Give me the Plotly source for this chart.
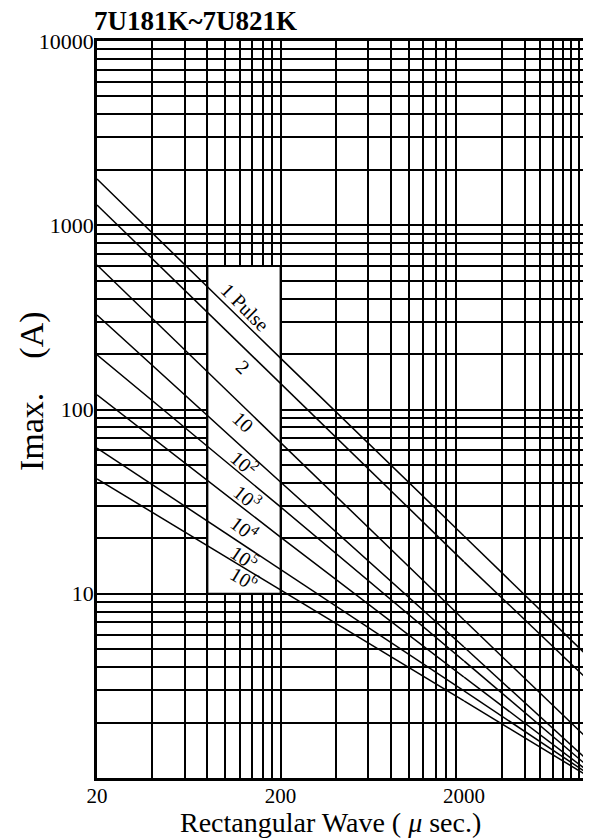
import math
import plotly.graph_objects as go

# pulse-life curves, Imax (A) read at t = 20, 200, 2000 us and at the right edge
pulse_labels = ["1 Pulse", "2", "10", "10<sup>2</sup>", "10<sup>3</sup>",
                "10<sup>4</sup>", "10<sup>5</sup>", "10<sup>6</sup>"]
t_left = [20, 200, 2000]
t_right = [2000, 20000]
i_20 = [1782, 1288, 609, 326, 198, 120, 61.8, 42.0]
i_200 = [190, 139, 65.8, 40.4, 29.6, 20.3, 13.5, 10.5]
i_2000 = [20.6, 14.9, 7.2, 5.14, 4.32, 3.53, 2.97, 2.62]
i_end = [4.4, 3.28, 1.57, 1.2, 1.12, 1.06, 1.03, 1.0]

# grid / tick values
x_grid1 = [20 * k for k in range(1, 11)] + [200 * k for k in range(2, 11)]
x_grid2 = [2000 * k for k in range(1, 11)]
y_grid = [m * 10 ** e for e in range(0, 4) for m in range(1, 10)] + [10000]
x_labels = {20: "20", 200: "200", 2000: "2000"}
y_labels = {10: "10", 100: "100", 1000: "1000", 10000: "10000"}

# label placement inside the white box (us, A, angle)
lab_x = [128, 125, 125, 128, 133, 128, 128, 128]
lab_y = [360, 170, 85.5, 51.2, 33.5, 22.7, 15.8, 12.2]
lab_ang = [45, 44, 43, 41, 39, 37, 34, 31]

SERIF = "Liberation Serif, Times New Roman, serif"

fig = go.Figure()
for k in range(len(pulse_labels)):
    fig.add_trace(go.Scatter(x=t_left, y=[i_20[k], i_200[k], i_2000[k]], mode="lines",
                             line=dict(color="black", width=1.5), xaxis="x", yaxis="y"))
    fig.add_trace(go.Scatter(x=t_right, y=[i_2000[k], i_end[k]], mode="lines",
                             line=dict(color="black", width=1.5), xaxis="x2", yaxis="y"))

split = 367 / 494
grid_style = dict(type="log", showgrid=True, gridcolor="black", gridwidth=1.8,
                  zeroline=False, ticks="", showline=True, linecolor="black",
                  linewidth=2.5, mirror=True, automargin=False,
                  tickfont=dict(family=SERIF, size=21, color="black"))

# the page body adds an 8px offset, so the figure is sized to end at the window edge
fig.update_layout(
    width=583, height=832,
    margin=dict(l=89, r=0, t=33, b=62, autoexpand=False),
    paper_bgcolor="white", plot_bgcolor="white",
    showlegend=False,
    xaxis=dict(grid_style, domain=[0, split],
               range=[math.log10(20), math.log10(2000)], ticklabelstandoff=-3,
               tickvals=x_grid1, ticktext=[x_labels.get(v, "") for v in x_grid1]),
    xaxis2=dict(grid_style, domain=[split, 1], anchor="y",
                range=[math.log10(2000), math.log10(20000)],
                tickvals=x_grid2, ticktext=["" for v in x_grid2]),
    yaxis=dict(grid_style, range=[0, 4], mirror=False,
               tickvals=y_grid, ticktext=[y_labels.get(v, "") for v in y_grid],
               tickfont=dict(family=SERIF, size=22, color="black"),
               ticklabelstandoff=-4),
)

# white label box, above the grid but under the curves
fig.add_shape(type="rect", xref="x", yref="y", x0=80, x1=200, y0=10, y1=600,
              fillcolor="white", line=dict(color="black", width=1.8), layer="between")

for k, txt in enumerate(pulse_labels):
    fig.add_annotation(x=math.log10(lab_x[k]), y=math.log10(lab_y[k]), xref="x", yref="y",
                       text=txt, showarrow=False, textangle=lab_ang[k],
                       font=dict(family=SERIF, size=20, color="black"))

fig.add_annotation(x=0, y=1, xref="paper", yref="paper", xanchor="left", yanchor="bottom",
                   xshift=-4, yshift=4, borderpad=0, showarrow=False,
                   text="<b>7U181K~7U821K</b>",
                   font=dict(family=SERIF, size=27, color="black"))
fig.add_annotation(x=(330 - 97) / 494, y=(778 - 822) / 737, xref="paper", yref="paper",
                   xanchor="center", yanchor="middle", showarrow=False,
                   text="Rectangular Wave ( <i>μ</i> sec.)",
                   font=dict(family=SERIF, size=28, color="black"))
fig.add_annotation(x=(32 - 97) / 494, y=(778 - 391) / 737, xref="paper", yref="paper",
                   xanchor="center", yanchor="middle", showarrow=False, textangle=-90,
                   text="Imax.\u00a0\u00a0\u00a0\u00a0(A)",
                   font=dict(family=SERIF, size=34, color="black"))

fig.write_html("out.html")
